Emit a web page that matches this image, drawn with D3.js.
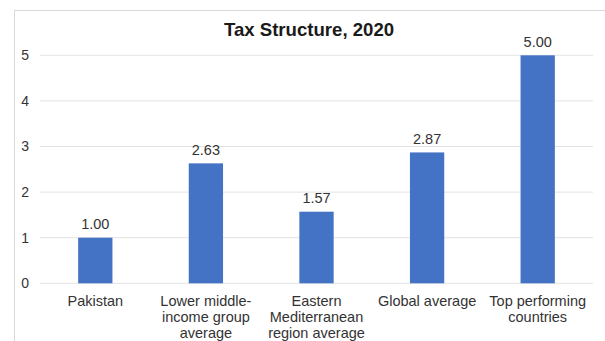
<!DOCTYPE html>
<html>
<head>
<meta charset="utf-8">
<script src="https://cdn.jsdelivr.net/npm/d3@7"></script>
<style>
  body { margin: 0; background: #fff; overflow: hidden; }
  svg { display: block; font-family: "Liberation Sans", Arial, sans-serif; }
</style>
</head>
<body>
<div id="chart"></div>
<script>
const categories = [
  ["Pakistan"],
  ["Lower middle-", "income group", "average"],
  ["Eastern", "Mediterranean", "region average"],
  ["Global average"],
  ["Top performing", "countries"]
];
const values = [1.00, 2.63, 1.57, 2.87, 5.00];
const yTicks = [0, 1, 2, 3, 4, 5];

const width = 605, height = 341;
const plot = { left: 40, right: 593, top: 55.3, bottom: 283.3 };

const svg = d3.select('#chart')
  .append('svg')
  .attr('width', width)
  .attr('height', height);

// Chart area border
svg.append('rect')
  .attr('x', 14.5)
  .attr('y', 10.5)
  .attr('width', width)
  .attr('height', height)
  .attr('fill', 'none')
  .attr('stroke', '#d9d9d9');

const x = d3.scaleBand()
  .domain(d3.range(values.length))
  .range([plot.left, plot.right])
  .paddingInner(0.69)
  .paddingOuter(0.345);

const y = d3.scaleLinear()
  .domain([0, 5])
  .range([plot.bottom, plot.top]);

// Gridlines
svg.append('g')
  .selectAll('line')
  .data(yTicks)
  .join('line')
  .attr('x1', plot.left)
  .attr('x2', plot.right)
  .attr('y1', d => y(d))
  .attr('y2', d => y(d))
  .attr('stroke', '#e3e3e3')
  .attr('stroke-width', 1);

// Y axis labels
const yAxis = d3.axisLeft(y).tickValues(yTicks).tickSize(0).tickPadding(0).tickFormat(d3.format('d'));
svg.append('g')
  .attr('transform', 'translate(29,0)')
  .call(yAxis)
  .call(g => g.select('.domain').remove())
  .call(g => g.selectAll('text')
    .attr('font-size', 14)
    .attr('fill', '#333')
    .attr('font-family', '"Liberation Sans", Arial, sans-serif'));

// Bars
svg.append('g')
  .selectAll('rect')
  .data(values)
  .join('rect')
  .attr('x', (d, i) => x(i))
  .attr('width', x.bandwidth())
  .attr('y', d => y(d))
  .attr('height', d => y(0) - y(d))
  .attr('fill', '#4472c4');

// Value labels
svg.append('g')
  .selectAll('text')
  .data(values)
  .join('text')
  .attr('x', (d, i) => x(i) + x.bandwidth() / 2)
  .attr('y', d => y(d) - 8.5)
  .attr('text-anchor', 'middle')
  .attr('font-size', 14.5)
  .attr('fill', '#333')
  .text(d => d3.format('.2f')(d));

// Category labels
const catG = svg.append('g')
  .selectAll('text')
  .data(categories)
  .join('text')
  .attr('x', (d, i) => x(i) + x.bandwidth() / 2)
  .attr('y', y(0) + 22.3)
  .attr('text-anchor', 'middle')
  .attr('font-size', 14.5)
  .attr('fill', '#333');

catG.selectAll('tspan')
  .data(d => d)
  .join('tspan')
  .attr('x', function () { return this.parentNode.getAttribute('x'); })
  .attr('dy', (d, i) => i === 0 ? 0 : 16.3)
  .text(d => d);

// Title
svg.append('text')
  .attr('x', 309)
  .attr('y', 36)
  .attr('text-anchor', 'middle')
  .attr('font-size', 18.6)
  .attr('font-weight', 'bold')
  .attr('fill', '#1a1a1a')
  .text('Tax Structure, 2020');
</script>
</body>
</html>
